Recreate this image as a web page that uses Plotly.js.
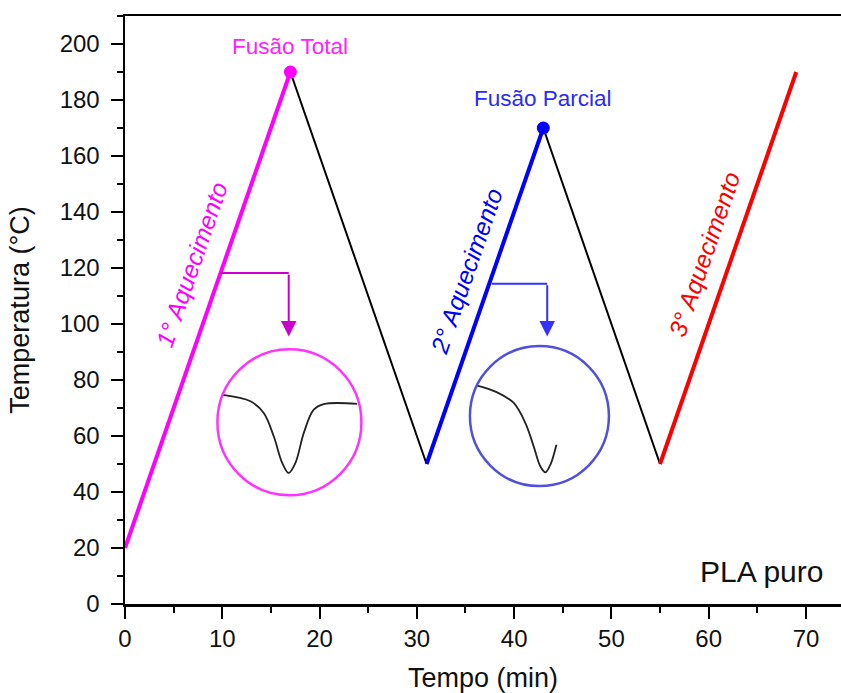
<!DOCTYPE html>
<html>
<head>
<meta charset="utf-8">
<script src="https://cdn.plot.ly/plotly-3.0.1.min.js"></script>
<style>html,body{margin:0;padding:0;background:#fff;}#chart{width:841px;height:693px;}</style>
</head>
<body>
<div id="chart"></div>
<script>
// Temperature program segments (time in min, temperature in °C)
const heat1X = [0, 17];   const heat1Y = [20, 190];
const cool1X = [17, 31];  const cool1Y = [190, 50];
const heat2X = [31, 43];  const heat2Y = [50, 170];
const cool2X = [43, 55];  const cool2Y = [170, 50];
const heat3X = [55, 69];  const heat3Y = [50, 190];

// Peak markers
const peakX = [17, 43];
const peakY = [190, 170];
const peakLabels = ['Fusão Total', 'Fusão Parcial'];
const peakLabelY = [199, 180.5];

// Segment labels
const segLabels = ['1° Aquecimento', '2° Aquecimento', '3° Aquecimento'];
const segLabelX = [6.9, 35.1, 59.6];
const segLabelY = [121.2, 118.8, 124.7];

// Inset DSC curves (drawn in data space)
const inset1X = [10.05, 12.9, 14.26, 15.29, 16.16, 16.83, 17.52, 18.38, 19.4, 20.43, 23.86];
const inset1Y = [74.7, 72.4, 68.2, 59.9, 50.4, 46.8, 50.4, 61.1, 69.4, 71.4, 71.5];
const inset2X = [36.2, 38.25, 39.96, 41.16, 42.01, 42.7, 43.22, 43.73, 44.35];
const inset2Y = [78.0, 75.6, 71.8, 64.6, 56.3, 49.1, 47.0, 49.8, 56.9];

// Inset circle centres
const insetCX = [16.9, 42.6];
const insetCY = [64.9, 67.1];

// Pointer arrows: horizontal leg then vertical to tip
const arrow1X = [9.81, 16.83];  const arrow1Y = [118.2, 118.2]; const arrow1TipY = 95.5;
const arrow2X = [37.7, 43.4];   const arrow2Y = [114.4, 114.4]; const arrow2TipY = 95.5;

const xTicks = [0, 10, 20, 30, 40, 50, 60, 70];
const yTicks = [0, 20, 40, 60, 80, 100, 120, 140, 160, 180, 200];

const MAG = '#ff00ff', BLU = '#0000ff', RED = '#ff0000';
const FONT = 'Liberation Sans, Arial, sans-serif';

function seg(x, y, color, w) {
  return {x: x, y: y, mode: 'lines', type: 'scatter', line: {color: color, width: w}, hoverinfo: 'skip', showlegend: false};
}

const traces = [
  seg(cool1X, cool1Y, '#000000', 2),
  seg(cool2X, cool2Y, '#000000', 2),
  seg(heat1X, heat1Y, MAG, 4),
  seg(heat2X, heat2Y, BLU, 4),
  seg(heat3X, heat3Y, RED, 4),
  {x: inset1X, y: inset1Y, mode: 'lines', type: 'scatter', line: {color: '#222', width: 1.8, shape: 'spline', smoothing: 1}, showlegend: false, hoverinfo: 'skip'},
  {x: inset2X, y: inset2Y, mode: 'lines', type: 'scatter', line: {color: '#222', width: 1.8, shape: 'spline', smoothing: 1}, showlegend: false, hoverinfo: 'skip'},
  seg(arrow1X, arrow1Y, '#cc00cc', 2),
  seg(arrow2X, arrow2Y, '#3333ff', 2),
  {x: peakX, y: peakY, mode: 'markers', type: 'scatter', marker: {color: [MAG, BLU], size: 13}, showlegend: false, hoverinfo: 'skip'}
];

const annotations = [
  {x: peakX[0], y: peakLabelY[0], text: peakLabels[0], showarrow: false, font: {family: FONT, size: 22.5, color: '#ff22ff'}, xanchor: 'center', yanchor: 'middle'},
  {x: peakX[1], y: peakLabelY[1], text: peakLabels[1], showarrow: false, font: {family: FONT, size: 22.5, color: '#2a2aff'}, xanchor: 'center', yanchor: 'middle'},
  {x: segLabelX[0], y: segLabelY[0], text: '<i>' + segLabels[0] + '</i>', textangle: -70.9, showarrow: false, font: {family: FONT, size: 24.5, color: MAG}},
  {x: segLabelX[1], y: segLabelY[1], text: '<i>' + segLabels[1] + '</i>', textangle: -70.8, showarrow: false, font: {family: FONT, size: 24.5, color: BLU}},
  {x: segLabelX[2], y: segLabelY[2], text: '<i>' + segLabels[2] + '</i>', textangle: -70.9, showarrow: false, font: {family: FONT, size: 24.5, color: RED}},
  {x: 65.4, y: 11.5, text: 'PLA puro', showarrow: false, font: {family: FONT, size: 30, color: '#111'}, xanchor: 'center', yanchor: 'middle'},
  {x: arrow1X[1], y: arrow1TipY, ax: arrow1X[1], ay: arrow1Y[1], axref: 'x', ayref: 'y', xref: 'x', yref: 'y', text: '', showarrow: true, arrowhead: 2, arrowsize: 1.55, arrowwidth: 2, arrowcolor: '#cc00cc'},
  {x: arrow2X[1], y: arrow2TipY, ax: arrow2X[1], ay: arrow2Y[1], axref: 'x', ayref: 'y', xref: 'x', yref: 'y', text: '', showarrow: true, arrowhead: 2, arrowsize: 1.55, arrowwidth: 2, arrowcolor: '#3333ff'}
];

const shapes = [
  {type: 'circle', xref: 'x', yref: 'y', xsizemode: 'pixel', ysizemode: 'pixel', xanchor: insetCX[0], yanchor: insetCY[0], x0: -72, x1: 72, y0: -73, y1: 73, line: {color: '#ff33ff', width: 2.5}, layer: 'above'},
  {type: 'circle', xref: 'x', yref: 'y', xsizemode: 'pixel', ysizemode: 'pixel', xanchor: insetCX[1], yanchor: insetCY[1], x0: -69.5, x1: 69.5, y0: -70, y1: 70, line: {color: '#5050dd', width: 2.5}, layer: 'above'}
];

const layout = {
  width: 841, height: 693,
  margin: {l: 124.5, r: 0, t: 16, b: 89},
  paper_bgcolor: '#fff', plot_bgcolor: '#fff',
  font: {family: FONT, color: '#111'},
  showlegend: false,
  xaxis: {
    range: [0, 73.6], tickvals: xTicks, ticks: 'outside', ticklen: 12, tickwidth: 2, tickcolor: '#000',
    showline: true, linecolor: '#000', linewidth: 2.5, mirror: true, showgrid: false, zeroline: false,
    tickfont: {family: FONT, size: 24, color: '#111'},
    minor: {dtick: 5, ticks: 'outside', ticklen: 6, tickwidth: 2, tickcolor: '#000', showgrid: false},
    title: {text: 'Tempo (min)', font: {family: FONT, size: 27, color: '#111'}, standoff: 18},
    fixedrange: true
  },
  yaxis: {
    range: [0, 210], tickvals: yTicks, ticks: 'outside', ticklen: 12, tickwidth: 2, tickcolor: '#000',
    showline: true, linecolor: '#000', linewidth: 2.5, mirror: false, showgrid: false, zeroline: false,
    tickfont: {family: FONT, size: 24, color: '#111'},
    ticklabelstandoff: 6,
    minor: {dtick: 10, ticks: 'outside', ticklen: 6, tickwidth: 2, tickcolor: '#000', showgrid: false},
    title: {text: 'Temperatura (°C)', font: {family: FONT, size: 27, color: '#111'}, standoff: 22},
    fixedrange: true
  },
  annotations: annotations,
  shapes: shapes
};

Plotly.newPlot('chart', traces, layout, {displayModeBar: false, staticPlot: true});
</script>
</body>
</html>
